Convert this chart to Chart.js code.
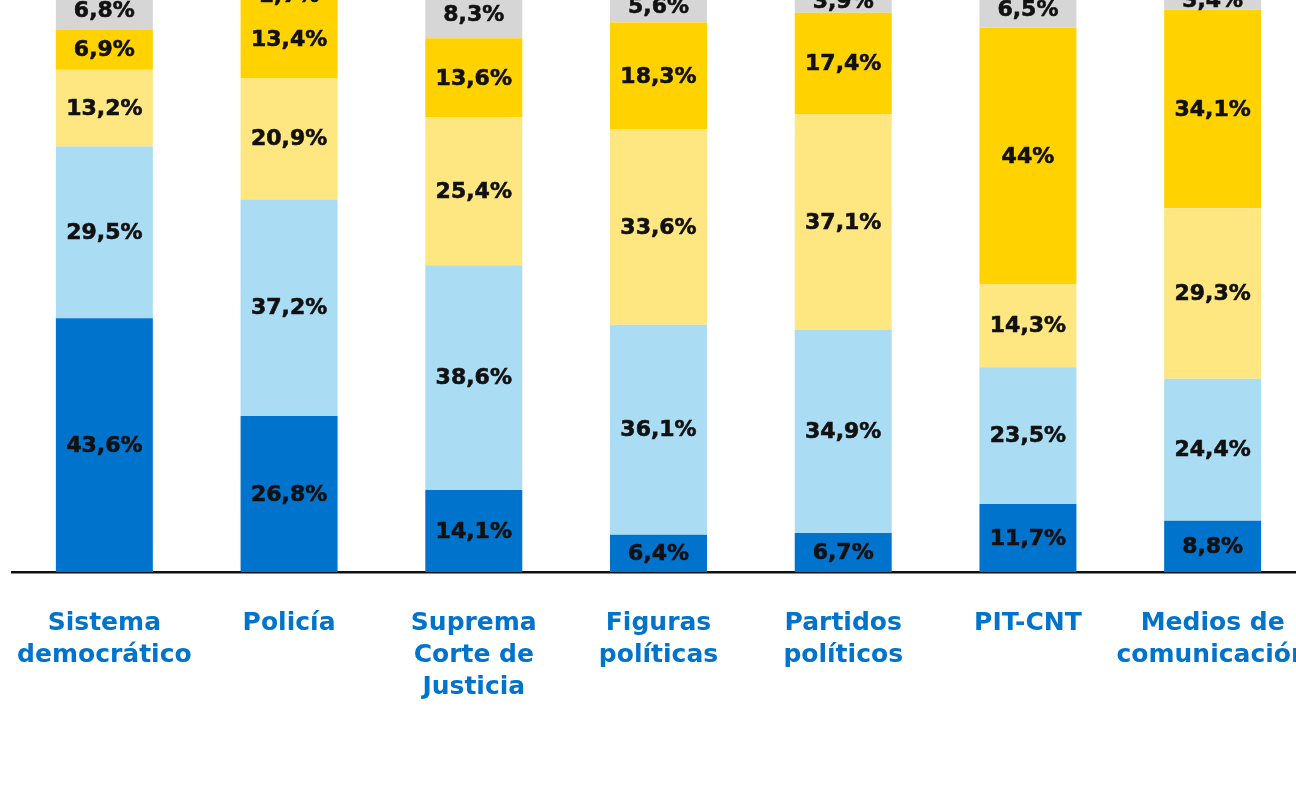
<!DOCTYPE html>
<html lang="es">
<head>
<meta charset="utf-8"/>
<title>Confianza en instituciones</title>
<script src="https://cdn.jsdelivr.net/npm/chart.js"></script>
<style>
  html, body {
    margin: 0;
    padding: 0;
    background: #ffffff;
    overflow: hidden;
    width: 1296px;
    height: 804px;
  }
  #wrap {
    position: absolute;
    left: 0;
    top: -10px;
    width: 1310px;
    height: 748px;
  }
</style>
</head>
<body>
<div id="wrap"><canvas id="chart"></canvas></div>
<script>
  // categorias y series (de abajo hacia arriba en cada barra)
  const categories = [
    ['Sistema', 'democrático'],
    ['Policía'],
    ['Suprema', 'Corte de', 'Justicia'],
    ['Figuras', 'políticas'],
    ['Partidos', 'políticos'],
    ['PIT-CNT'],
    ['Medios de', 'comunicación']
  ];
  const serie1 = [43.6, 26.8, 14.1, 6.4, 6.7, 11.7, 8.8];
  const serie2 = [29.5, 37.2, 38.6, 36.1, 34.9, 23.5, 24.4];
  const serie3 = [13.2, 20.9, 25.4, 33.6, 37.1, 14.3, 29.3];
  const serie4 = [6.9, 13.4, 13.6, 18.3, 17.4, 44, 34.1];
  const serie5 = [6.8, 1.7, 8.3, 5.6, 3.9, 6.5, 3.4];

  const colors = ['#0073cc', '#aadcf4', '#fee781', '#ffd200', '#d6d6d6'];
  const font = '"DejaVu Sans", sans-serif';

  // etiquetas de valor dentro de cada segmento
  const segmentLabels = {
    id: 'segmentLabels',
    afterDatasetsDraw(chart) {
      const ctx = chart.ctx;
      ctx.save();
      ctx.font = 'bold 22px ' + font;
      ctx.fillStyle = '#111111';
      ctx.strokeStyle = '#111111';
      ctx.lineWidth = 0.6;
      ctx.textAlign = 'center';
      ctx.textBaseline = 'middle';
      chart.data.datasets.forEach((ds, i) => {
        chart.getDatasetMeta(i).data.forEach((bar, j) => {
          const v = ds.data[j];
          const txt = String(v).replace('.', ',') + '%';
          const y = (bar.y + bar.base) / 2 + 1;
          ctx.fillText(txt, bar.x, y);
          ctx.strokeText(txt, bar.x, y);
        });
      });
      ctx.restore();
    }
  };

  new Chart(document.getElementById('chart'), {
    type: 'bar',
    data: {
      labels: categories,
      datasets: [serie1, serie2, serie3, serie4, serie5].map((d, i) => ({
        data: d,
        backgroundColor: colors[i],
        borderWidth: 0,
        barPercentage: 0.525,
        categoryPercentage: 1
      }))
    },
    options: {
      responsive: true,
      maintainAspectRatio: false,
      animation: false,
      layout: { padding: { left: 12, right: 5, top: 0, bottom: 0 } },
      plugins: {
        legend: { display: false },
        tooltip: { enabled: false }
      },
      scales: {
        x: {
          stacked: true,
          grid: { display: false, drawTicks: false },
          border: { display: true, color: '#111111', width: 2.5 },
          ticks: {
            color: '#0073cc',
            font: { family: font, size: 25, weight: 'bold', lineHeight: 1.28 },
            padding: 35,
            maxRotation: 0,
            autoSkip: false
          },
          afterFit(scale) {
            // the labels may run past the edges, like in the original
            scale.paddingLeft = 0;
            scale.paddingRight = 0;
          }
        },
        y: {
          stacked: true,
          display: false,
          min: 0,
          max: 100
        }
      }
    },
    plugins: [segmentLabels]
  });
</script>
</body>
</html>
